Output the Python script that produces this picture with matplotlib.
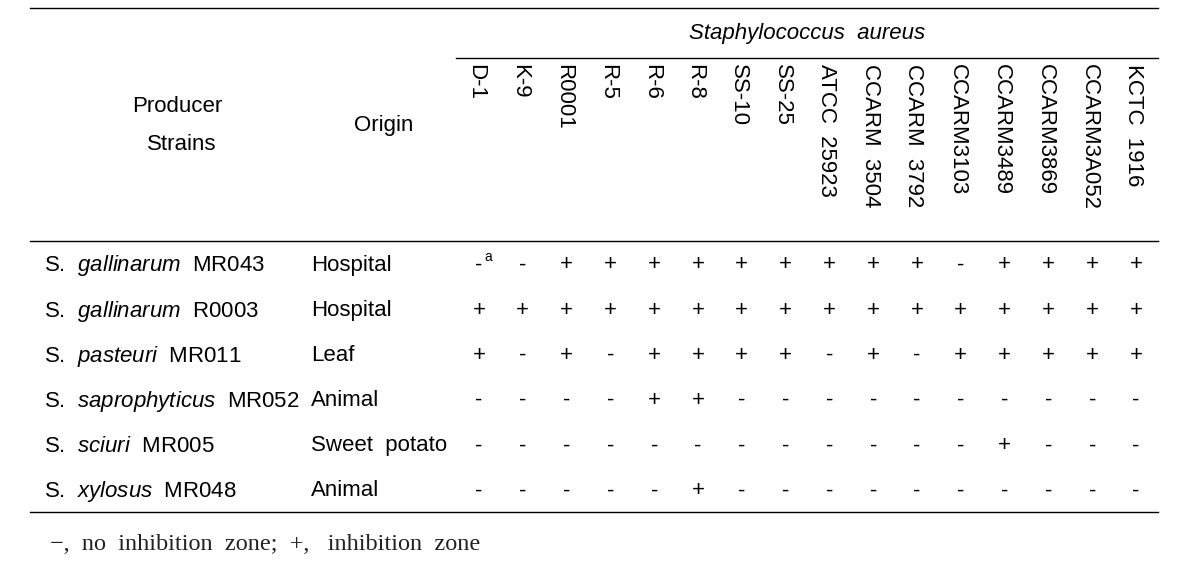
import numpy as np
import matplotlib
matplotlib.use("Agg")
import matplotlib.pyplot as plt

plt.rcParams['font.family'] = 'Liberation Sans'
plt.rcParams['mathtext.fontset'] = 'custom'
plt.rcParams['mathtext.rm'] = 'Liberation Sans'
plt.rcParams['mathtext.it'] = 'Liberation Sans:italic'

# Table data
genus = ["S.", "S.", "S.", "S.", "S.", "S."]
species = ["gallinarum", "gallinarum", "pasteuri", "saprophyticus", "sciuri", "xylosus"]
strain_ids = ["MR043", "R0003", "MR011", "MR052", "MR005", "MR048"]
origins = ["Hospital", "Hospital", "Leaf", "Animal", "Sweet  potato", "Animal"]
targets = ["D-1", "K-9", "R0001", "R-5", "R-6", "R-8", "SS-10", "SS-25",
           "ATCC  25923", "CCARM  3504", "CCARM  3792", "CCARM3103",
           "CCARM3489", "CCARM3869", "CCARM3A052", "KCTC  1916"]
results = [
    "--+++++++++-++++",
    "++++++++++++++++",
    "+-+-++++-+-+++++",
    "----++----------",
    "------------+---",
    "-----+----------",
]

fig = plt.figure(figsize=(11.88, 5.74), dpi=100)
ax = fig.add_axes([0, 0, 1, 1])
ax.set_xlim(0, 1188)
ax.set_ylim(574, 0)
ax.axis('off')

fs = 16
x_left, x_right = 30, 1158
col_x0, col_dx = 479, (1136 - 479) / 15
row_y0, row_dy = 264, 45.2

# rules
ax.plot([x_left, x_right], [8, 8], color='black', lw=1)
ax.plot([456, x_right], [58, 58], color='black', lw=1)
ax.plot([x_left, x_right], [241, 241], color='black', lw=1)
ax.plot([x_left, x_right], [512, 512], color='black', lw=1)

# header
ax.text(177, 107, "Producer", ha='center', va='center', fontsize=fs)
ax.text(182, 145, "Strains", ha='center', va='center', fontsize=fs)
ax.text(384, 126, "Origin", ha='center', va='center', fontsize=fs)
ax.text(807, 34, "Staphylococcus  aureus", ha='center', va='center',
        fontsize=fs, fontstyle='italic')
for j, t in enumerate(targets):
    ax.text(col_x0 + j * col_dx - 3, 64, t, rotation=-90, ha='center', va='top',
            fontsize=fs)

# body
for i in range(len(strain_ids)):
    y = row_y0 + i * row_dy
    label = genus[i] + r"$\ \ $" + r"$\it{" + species[i] + r"}$" + "  " + strain_ids[i]
    ax.text(44, y + 2, label, ha='left', va='center', fontsize=fs)
    ax.text(311, y + 1, origins[i], ha='left', va='center', fontsize=fs)
    for j, r in enumerate(results[i]):
        ax.text(col_x0 + j * col_dx, y + 1, r, ha='center', va='center', fontsize=fs)

# superscript on first cell
ax.text(col_x0 + 5, row_y0 - 7, "a", ha='left', va='center', fontsize=10)

# footnote
ax.text(50, 544, "\u2212,  no  inhibition  zone;  +,   inhibition  zone", ha='left',
        va='center', fontsize=17.5, family='Liberation Serif', color='#222222')

fig.savefig("out.png", dpi=100)
